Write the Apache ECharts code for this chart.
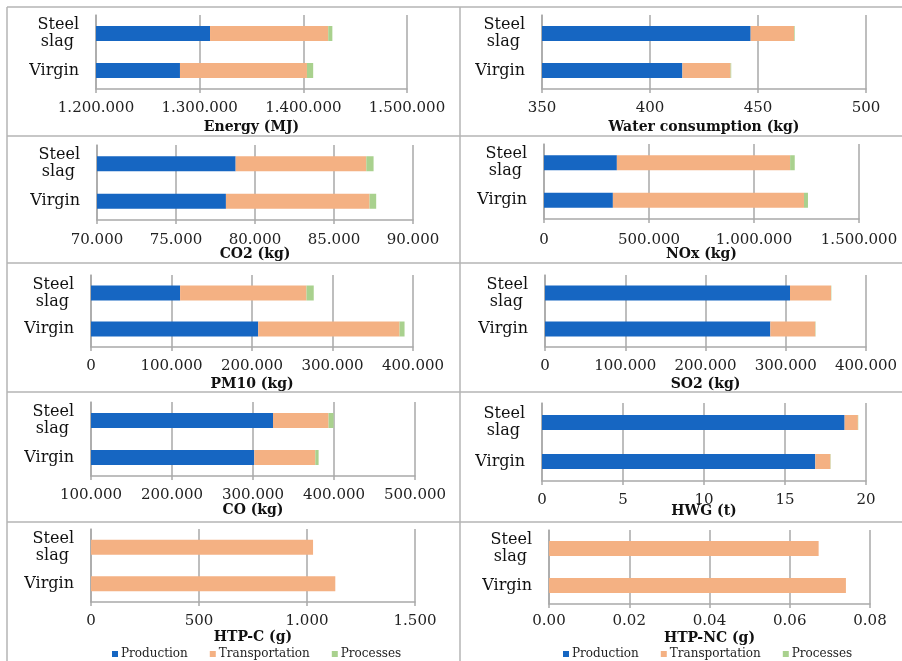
<!DOCTYPE html>
<html>
<head>
<meta charset="utf-8">
<script src="https://cdn.jsdelivr.net/npm/echarts@6/dist/echarts.min.js"></script>
<style>html,body{margin:0;padding:0;background:#fff}#c{width:902px;height:661px}</style>
</head>
<body>
<div id="c"></div>
<script>
// ---- data ----
const categories = ['Virgin', 'Steel slag'];
const seriesNames = ['Production', 'Transportation', 'Processes'];
const panelTitles = ['Energy (MJ)', 'Water consumption (kg)', 'CO2 (kg)', 'NOx (kg)', 'PM10 (kg)',
  'SO2 (kg)', 'CO (kg)', 'HWG (t)', 'HTP-C (g)', 'HTP-NC (g)'];
// each: [production, transportation, processes], values per category [Virgin, Steel slag]
const energy = [[1281000, 1310000], [122500, 114000], [6000, 4000]];
const water = [[415, 446.6], [22.3, 20.1], [0.3, 0.3]];
const co2 = [[78160, 78775], [9090, 8270], [420, 460]];
const nox = [[328000, 347000], [910000, 825000], [19000, 22000]];
const pm10 = [[207700, 110700], [175600, 157000], [6200, 9000]];
const so2 = [[280800, 305300], [56000, 51100], [400, 400]];
const co = [[301600, 324700], [75300, 68600], [4100, 6200]];
const hwg = [[16.87, 18.68], [0.93, 0.82], [0.02, 0.02]];
const htpc = [[0, 0], [1131, 1028], [0, 0]];
const htpnc = [[0, 0], [0.0740, 0.0672], [0, 0]];
const panelData = [energy, water, co2, nox, pm10, so2, co, hwg, htpc, htpnc];
// axis ticks
const axisMin = [1200000, 350, 70000, 0, 0, 0, 100000, 0, 0, 0];
const axisMax = [1500000, 500, 90000, 1500000, 400000, 400000, 500000, 20, 1500, 0.08];
const axisStep = [100000, 50, 5000, 500000, 100000, 100000, 100000, 5, 500, 0.02];
const axisDecimals = [0, 0, 0, 0, 0, 0, 0, 0, 0, 2];
const colors = ['#1666c2', '#f4b183', '#a9d18e'];

// ---- layout ----
const grids = [
  {left: 96, top: 15, width: 311, height: 74, margin: 12, gap: 31},
  {left: 542, top: 15, width: 324, height: 74, margin: 12, gap: 31},
  {left: 97, top: 145, width: 316, height: 75, margin: 13, gap: 27},
  {left: 544, top: 144, width: 315, height: 75, margin: 14, gap: 28},
  {left: 91, top: 275, width: 322, height: 72, margin: 12, gap: 30},
  {left: 545, top: 275, width: 321, height: 72, margin: 12, gap: 30},
  {left: 91, top: 402, width: 324, height: 74, margin: 12, gap: 27},
  {left: 542, top: 403, width: 324, height: 78, margin: 12, gap: 23},
  {left: 91, top: 529, width: 324, height: 73, margin: 12, gap: 28},
  {left: 549, top: 530, width: 321, height: 74, margin: 10, gap: 27}
];

function fmt(v, d) {
  if (d > 0) return v.toFixed(d);
  const s = Math.round(v).toString();
  return s.replace(/\B(?=(\d{3})+(?!\d))/g, '.');
}

const FONT = 'DejaVu Serif';
const lineColor = '#a9a9a9';
const option = {
  animation: false,
  backgroundColor: '#fff',
  grid: grids.map(g => ({left: g.left, top: g.top, width: g.width, height: g.height, containLabel: false})),
  xAxis: grids.map((g, i) => ({
    type: 'value', gridIndex: i,
    min: axisMin[i], max: axisMax[i], interval: axisStep[i],
    name: panelTitles[i], nameLocation: 'middle', nameGap: g.gap, nameMoveOverlap: false,
    nameTextStyle: {fontFamily: FONT, fontWeight: 'bold', fontSize: 14, color: '#111'},
    axisLine: {show: true, lineStyle: {color: lineColor, width: 1.5}},
    axisTick: {show: true, length: 4, lineStyle: {color: lineColor, width: 1.5}},
    splitLine: {show: true, lineStyle: {color: lineColor, width: 1.5}},
    axisLabel: {margin: g.margin, fontFamily: FONT, fontSize: 15, color: '#222',
      formatter: v => fmt(v, axisDecimals[i])}
  })),
  yAxis: grids.map((g, i) => ({
    type: 'category', gridIndex: i, data: categories,
    axisLine: {show: true, lineStyle: {color: lineColor, width: 1.5}},
    axisTick: {show: false},
    axisLabel: {margin: 17, fontFamily: FONT, fontSize: 16, color: '#111', lineHeight: 17,
      formatter: v => v === 'Steel slag' ? 'Steel\nslag ' : v}
  })),
  legend: [
    {left: 112, top: 648, data: seriesNames},
    {left: 563, top: 648, data: seriesNames}
  ].map(l => Object.assign(l, {
    icon: 'rect', itemWidth: 6, itemHeight: 6, itemGap: 22, padding: 0,
    textStyle: {fontFamily: FONT, fontSize: 12, color: '#222', padding: [0, 0, 0, -2]}
  })),
  series: [],
  graphic: []
};

panelData.forEach((pd, i) => {
  pd.forEach((vals, k) => {
    option.series.push({
      type: 'bar', name: seriesNames[k], xAxisIndex: i, yAxisIndex: i,
      stack: 'p' + i, data: vals, barWidth: 15,
      itemStyle: {color: colors[k]}, clip: true
    });
  });
});

// panel borders
const bc = '#b4b4b4';
const hLines = [7, 136, 263, 392, 522];
hLines.forEach(y => option.graphic.push({type: 'line', shape: {x1: 7, y1: y, x2: 902, y2: y}, style: {stroke: bc, lineWidth: 1.5}, silent: true}));
[7, 460].forEach(x => option.graphic.push({type: 'line', shape: {x1: x, y1: 7, x2: x, y2: 661}, style: {stroke: bc, lineWidth: 1.5}, silent: true}));

const chart = echarts.init(document.getElementById('c'), null, {renderer: 'canvas'});
chart.setOption(option);
</script>
</body>
</html>
